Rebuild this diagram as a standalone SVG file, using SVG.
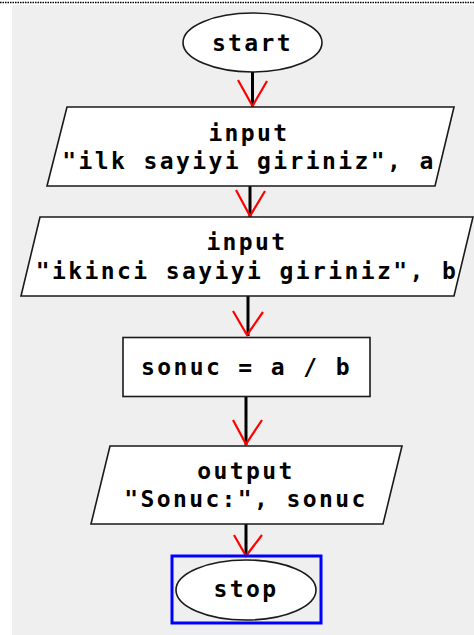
<svg xmlns="http://www.w3.org/2000/svg" width="474" height="635" viewBox="0 0 474 635">
<style>
.shape{fill:#ffffff;stroke:#1a1a1a;stroke-width:1.6}
.lbl{font-family:"DejaVu Sans Mono","Liberation Mono",monospace;font-weight:bold;font-size:23px;letter-spacing:2.4px;fill:#000;text-anchor:middle}
.conn{stroke:#000;stroke-width:3;fill:none}
.head{stroke:#ff0000;stroke-width:2.2;fill:none}
</style>
<rect x="0" y="0" width="474" height="635" fill="#ffffff"/>
<rect x="12" y="5" width="462" height="630" fill="#efefef"/>
<line x1="0" y1="2.5" x2="474" y2="2.5" stroke="#000" stroke-width="1.5" stroke-dasharray="1.5 1"/>
<g id="connectors">
<line class="conn" x1="252.5" y1="72" x2="252.5" y2="107"/>
<polyline class="head" points="238,80 252.5,106 267,81"/>
<line class="conn" x1="250" y1="186" x2="250" y2="217"/>
<polyline class="head" points="236,190 250,216 265,191"/>
<line class="conn" x1="248" y1="296" x2="248" y2="336"/>
<polyline class="head" points="233,311 247,335 263,312"/>
<line class="conn" x1="246" y1="397" x2="246" y2="445"/>
<polyline class="head" points="233,420 246,444 262,420"/>
<line class="conn" x1="246" y1="524" x2="246" y2="557"/>
<polyline class="head" points="234,535 246,556 262,535"/>
</g>
<g id="start">
<ellipse class="shape" cx="252.5" cy="42.5" rx="69.5" ry="29.5"/>
<text class="lbl" x="252.5" y="51">start</text>
</g>
<g id="input1">
<polygon class="shape" points="67,107 454,107 435,186 47,186"/>
<text class="lbl" x="249" y="141">input</text>
<text class="lbl" x="249" y="169">"ilk sayiyi giriniz", a</text>
</g>
<g id="input2">
<polygon class="shape" points="40,217 473,217 454,296 21,296"/>
<text class="lbl" x="247" y="250">input</text>
<text class="lbl" x="247" y="279">"ikinci sayiyi giriniz", b</text>
</g>
<g id="process">
<rect class="shape" x="123" y="337.5" width="247" height="59"/>
<text class="lbl" x="246.5" y="375">sonuc = a / b</text>
</g>
<g id="output">
<polygon class="shape" points="110,446 402,446 383,524 91,524"/>
<text class="lbl" x="246" y="479">output</text>
<text class="lbl" x="246" y="507">"Sonuc:", sonuc</text>
</g>
<g id="stop">
<rect x="172" y="556" width="149" height="67" fill="none" stroke="#0000ff" stroke-width="3"/>
<ellipse class="shape" cx="246" cy="590" rx="70" ry="30"/>
<text class="lbl" x="246" y="597">stop</text>
</g>
</svg>
